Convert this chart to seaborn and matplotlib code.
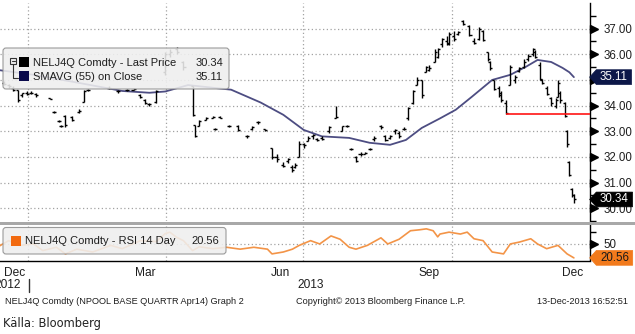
import numpy as np
import pandas as pd
import matplotlib
matplotlib.use("Agg")
import matplotlib.pyplot as plt
import matplotlib.transforms as mtransforms
from matplotlib.patches import FancyBboxPatch, Rectangle
from matplotlib.lines import Line2D
from matplotlib.path import Path
import seaborn as sns

# ---------------------------------------------------------------- data
# Exchange holidays removed from the trading-day axis
holidays = ["2012-12-24", "2012-12-25", "2012-12-26", "2012-12-31",
            "2013-01-01", "2013-03-28", "2013-03-29", "2013-04-01",
            "2013-05-01", "2013-05-09", "2013-05-17", "2013-05-20",
            "2013-12-24", "2013-12-25", "2013-12-26", "2013-12-31"]

# NELJ4Q daily OHLC bars (EUR/MWh)
bar_dates = [
    "2012-12-11", "2012-12-13", "2012-12-17", "2012-12-19", "2012-12-21", "2012-12-28",
    "2013-01-03", "2013-01-07", "2013-01-15", "2013-01-17", "2013-01-21", "2013-01-22", "2013-01-24", "2013-01-29",
    "2013-02-01", "2013-02-05", "2013-02-07", "2013-02-20", "2013-02-26",
    "2013-03-04", "2013-03-07", "2013-03-12", "2013-03-14", "2013-03-18", "2013-03-21", "2013-03-27",
    "2013-04-03", "2013-04-08", "2013-04-11", "2013-04-17", "2013-04-18", "2013-04-22", "2013-04-25", "2013-04-30",
    "2013-05-02", "2013-05-06", "2013-05-13", "2013-05-21", "2013-05-27", "2013-05-29",
    "2013-06-03", "2013-06-06", "2013-06-11", "2013-06-13", "2013-06-18", "2013-06-20", "2013-06-24", "2013-06-25", "2013-06-27",
    "2013-07-01", "2013-07-03", "2013-07-05", "2013-07-09", "2013-07-11", "2013-07-16", "2013-07-19", "2013-07-24", "2013-07-26", "2013-07-30",
    "2013-08-01", "2013-08-05", "2013-08-07", "2013-08-09", "2013-08-13", "2013-08-16", "2013-08-20", "2013-08-22", "2013-08-26", "2013-08-28", "2013-08-30",
    "2013-09-03", "2013-09-05", "2013-09-09", "2013-09-11", "2013-09-13", "2013-09-16", "2013-09-19", "2013-09-20", "2013-09-24", "2013-09-26", "2013-09-27",
    "2013-10-01", "2013-10-03", "2013-10-07", "2013-10-10", "2013-10-14", "2013-10-16", "2013-10-18", "2013-10-22", "2013-10-23", "2013-10-25", "2013-10-29", "2013-10-30",
    "2013-11-01", "2013-11-05", "2013-11-07", "2013-11-11", "2013-11-13", "2013-11-15", "2013-11-19", "2013-11-20", "2013-11-22", "2013-11-25", "2013-11-27", "2013-11-29",
    "2013-12-03", "2013-12-04", "2013-12-05", "2013-12-09", "2013-12-10", "2013-12-11", "2013-12-12", "2013-12-13",
]
bar_open = [
    34.90, 34.80, 34.70, 34.60, 34.40, 34.50,
    34.50, 34.45, 34.30, 33.75, 33.40, 33.20, 33.60, 33.55,
    33.75, 34.15, 34.60, 34.70, 34.55,
    34.60, 34.60, 34.40, 34.20, 34.05, 34.15, 35.30,
    36.00, 36.20, 35.70, 34.75, 33.25, 33.20, 33.45, 33.50,
    33.10, 33.55, 33.20, 33.20, 32.80, 33.10,
    33.35, 33.10, 32.35, 32.00, 31.70, 31.85, 31.60, 31.60, 32.00,
    32.50, 32.60, 32.80, 32.70, 32.75, 33.00, 33.50, 33.00, 33.20, 32.30,
    32.00, 32.10, 32.10, 32.30, 32.70, 33.20, 32.80, 32.75, 33.00, 32.95, 33.10,
    33.50, 34.10, 34.80, 35.00, 35.30, 35.40, 35.70, 35.90, 36.40, 36.50, 36.40,
    36.70, 36.80, 37.30, 37.10, 36.50, 36.60, 36.90, 36.10, 35.70, 35.00, 34.70, 34.50,
    34.10, 34.80, 35.00, 35.35, 35.50, 35.80, 36.00, 36.10, 35.60, 35.00, 34.70, 34.30,
    34.00, 34.35, 34.50, 34.10, 33.00, 31.80, 30.75, 30.50,
]
bar_high = [
    34.95, 34.85, 34.75, 34.60, 34.50, 34.55,
    34.55, 34.50, 34.30, 33.80, 33.45, 33.25, 33.65, 33.60,
    33.85, 34.60, 34.65, 34.75, 34.60,
    34.65, 34.70, 34.45, 34.25, 34.10, 34.60, 36.10,
    36.20, 36.30, 35.75, 34.78, 33.25, 33.45, 33.55, 33.60,
    33.12, 33.60, 33.25, 33.25, 32.85, 33.20,
    33.40, 33.10, 32.35, 32.10, 31.80, 31.95, 31.70, 31.75, 32.60,
    32.55, 32.80, 32.90, 32.75, 32.80, 33.20, 34.00, 33.20, 33.25, 32.35,
    32.05, 32.20, 32.20, 32.35, 32.80, 33.25, 32.85, 32.85, 33.10, 33.00, 33.15,
    33.95, 34.60, 35.10, 35.00, 35.55, 35.60, 36.20, 36.25, 36.65, 36.70, 36.85,
    36.90, 36.90, 37.35, 37.15, 36.65, 37.05, 36.95, 36.10, 35.75, 35.00, 34.75, 34.55,
    34.20, 35.60, 35.20, 35.50, 35.80, 36.00, 36.25, 36.15, 35.70, 35.05, 34.75, 34.35,
    34.30, 35.00, 34.55, 34.15, 33.05, 31.85, 30.80, 30.55,
]
bar_low = [
    34.80, 34.70, 34.55, 34.15, 34.35, 34.40,
    34.45, 34.35, 34.25, 33.70, 33.35, 33.15, 33.15, 33.40,
    33.70, 34.15, 34.55, 34.65, 34.50,
    34.55, 34.60, 34.30, 34.05, 34.00, 34.10, 35.20,
    35.90, 36.00, 35.40, 33.60, 32.78, 33.20, 33.45, 33.50,
    33.05, 33.50, 33.15, 33.00, 32.75, 33.05,
    33.30, 33.00, 31.90, 31.80, 31.60, 31.75, 31.40, 31.55, 32.00,
    32.35, 32.60, 32.70, 32.60, 32.65, 32.95, 33.50, 33.00, 33.15, 32.25,
    31.80, 32.05, 32.10, 32.25, 32.60, 33.10, 32.60, 32.70, 32.90, 32.75, 33.05,
    33.45, 34.05, 34.80, 34.30, 35.30, 35.35, 35.70, 35.85, 36.30, 36.35, 36.35,
    36.50, 36.75, 37.15, 36.70, 36.40, 36.55, 36.50, 35.75, 35.40, 34.60, 34.35, 34.15,
    33.67, 34.80, 34.90, 35.30, 35.45, 35.75, 35.95, 35.85, 35.00, 34.85, 34.40, 34.00,
    33.90, 34.35, 34.10, 33.55, 32.40, 31.25, 30.45, 30.20,
]
bar_close = [
    34.85, 34.75, 34.60, 34.20, 34.50, 34.45,
    34.50, 34.40, 34.27, 33.75, 33.40, 33.20, 33.25, 33.45,
    33.80, 34.55, 34.60, 34.70, 34.55,
    34.60, 34.65, 34.35, 34.10, 34.05, 34.55, 36.00,
    36.10, 36.10, 35.50, 33.65, 32.80, 33.40, 33.50, 33.55,
    33.10, 33.50, 33.20, 33.05, 32.80, 33.15,
    33.35, 33.05, 32.00, 31.90, 31.65, 31.90, 31.50, 31.70, 32.50,
    32.45, 32.75, 32.85, 32.65, 32.70, 33.15, 33.55, 33.20, 33.20, 32.30,
    31.85, 32.10, 32.15, 32.30, 32.75, 33.15, 32.65, 32.80, 33.05, 32.80, 33.10,
    33.90, 34.55, 35.00, 34.40, 35.50, 35.45, 36.10, 36.20, 36.60, 36.45, 36.80,
    36.60, 36.85, 37.20, 36.75, 36.45, 37.00, 36.55, 35.80, 35.45, 34.65, 34.40, 34.20,
    33.70, 35.50, 35.10, 35.45, 35.70, 35.95, 36.20, 35.90, 35.05, 34.90, 34.45, 34.10,
    34.20, 34.90, 34.20, 33.60, 32.50, 31.30, 30.50, 30.34,
]

# 55-day simple moving average of the close
sma_dates = ["2012-12-07", "2013-01-04", "2013-01-31", "2013-02-28", "2013-03-18",
             "2013-03-27", "2013-04-15", "2013-05-14", "2013-06-04", "2013-06-18",
             "2013-07-01", "2013-07-11", "2013-07-29", "2013-08-09", "2013-08-22",
             "2013-09-02", "2013-09-11", "2013-09-23", "2013-10-02", "2013-10-11",
             "2013-10-24", "2013-11-05", "2013-11-14", "2013-11-21", "2013-11-29",
             "2013-12-06", "2013-12-11", "2013-12-13"]
sma_values = [35.38, 35.20, 34.90, 34.57, 34.50,
              34.55, 34.80, 34.62, 34.12, 33.64,
              33.05, 32.80, 32.74, 32.55, 32.47,
              32.66, 33.13, 33.50, 33.84, 34.34,
              35.00, 35.20, 35.52, 35.78, 35.70,
              35.47, 35.30, 35.11]

# 14-day RSI
rsi_dates = ["2012-12-07", "2012-12-13", "2012-12-20", "2013-01-04", "2013-01-10",
             "2013-01-18", "2013-01-24", "2013-01-31", "2013-02-11", "2013-02-21",
             "2013-02-28", "2013-03-12", "2013-03-21", "2013-03-27", "2013-04-03",
             "2013-04-08", "2013-04-11", "2013-04-17", "2013-04-22", "2013-04-30",
             "2013-05-10", "2013-05-22", "2013-05-30", "2013-06-07", "2013-06-11",
             "2013-06-18", "2013-06-24", "2013-06-27", "2013-07-04", "2013-07-10",
             "2013-07-17", "2013-07-23", "2013-07-29", "2013-08-01", "2013-08-08",
             "2013-08-16", "2013-08-21", "2013-08-28", "2013-09-04", "2013-09-10",
             "2013-09-13", "2013-09-18", "2013-09-20", "2013-09-23", "2013-09-27",
             "2013-10-04", "2013-10-09", "2013-10-14", "2013-10-18", "2013-10-24",
             "2013-10-31", "2013-11-05", "2013-11-11", "2013-11-18", "2013-11-21",
             "2013-11-27", "2013-12-04", "2013-12-10", "2013-12-13"]
rsi_values = [46, 57, 47, 50, 36,
              43, 29, 39, 33, 47,
              40, 57, 55, 72, 75,
              64, 57, 36, 44, 40,
              43, 39, 43, 39, 29,
              33, 39, 47, 57, 50,
              67, 60, 43, 39, 47,
              63, 50, 60, 78, 80,
              82, 78, 65, 71, 75,
              71, 75, 61, 57, 33,
              29, 50, 54, 61, 50,
              40, 47, 29, 20.56]

support_date = "2013-11-01"
price_ticks = [30, 31, 32, 33, 34, 35, 36, 37]
quarter_months = [(2013, 1), (2013, 4), (2013, 7), (2013, 10)]
label_months = [(2012, 12, "Dec"), (2013, 3, "Mar"), (2013, 6, "Jun"),
                (2013, 9, "Sep"), (2013, 12, "Dec")]

# ---------------------------------------------------------------- style
sns.set_theme(style="white")
plt.rcParams["font.family"] = ["Liberation Sans", "DejaVu Sans"]
TXT = "#1e1e1e"
GRID = dict(color="#a2a2a2", lw=0.9, ls=(0, (1, 2)), zorder=0.5)

W, H = 635, 334
fig = plt.figure(figsize=(W / 100, H / 100), dpi=100)
fig.patch.set_facecolor("white")
# pixel coordinates measured from the top-left corner of the figure
PX = mtransforms.Affine2D().scale(1 / W, -1 / H).translate(0, 1) + fig.transFigure

# trading-day axis
cal = pd.bdate_range("2012-12-03", "2013-12-31", freq="C", holidays=holidays)
day_pos = pd.Series(np.arange(len(cal), dtype=float), index=cal)


def to_x(dates):
    return day_pos.loc[pd.to_datetime(dates)].to_numpy()


months = day_pos.groupby([cal.year, cal.month]).agg(["min", "max"])
jan_edge = months.loc[(2013, 1), "min"] - 0.5
x_left, x_right = jan_edge - 12.33, jan_edge + 247.6

ax = fig.add_axes([0, 1 - 221 / H, 590 / W, 218 / H])
rax = fig.add_axes([0, 1 - 260.5 / H, 590 / W, 35.2 / H])
for a in (ax, rax):
    a.set_facecolor("white")
    for s in a.spines.values():
        s.set_visible(False)
    a.spines["right"].set_visible(True)
    a.spines["right"].set_color("black")
    a.spines["right"].set_linewidth(1.0)
rax.spines["bottom"].set_visible(True)
rax.spines["bottom"].set_color("black")
rax.spines["bottom"].set_linewidth(1.0)

# grid
for ym, mm in quarter_months:
    edge = months.loc[(ym, mm), "min"] - 0.5
    ax.axvline(edge, **GRID)
    rax.axvline(edge, **GRID)
for v in price_ticks:
    ax.axhline(v, **GRID)
rax.axhline(50, **GRID)

# OHLC bars
bx = to_x(bar_dates)
ax.vlines(bx, bar_low, bar_high, color="black", lw=1.0, zorder=3)
ax.hlines(bar_open, bx - 0.9, bx, color="black", lw=1.0, zorder=3)
ax.hlines(bar_close, bx, bx + 0.9, color="black", lw=1.0, zorder=3)

# moving average
sma_df = pd.DataFrame({"day": to_x(sma_dates), "sma": sma_values})
sns.lineplot(data=sma_df, x="day", y="sma", ax=ax, color="#4d4d82", lw=1.3,
             zorder=2, legend=False)

# support line from the November low
support_level = bar_low[bar_dates.index(support_date)]
ax.hlines(support_level, to_x([support_date])[0], x_right, color="#ff1414",
          lw=1.2, zorder=4)

# RSI
rsi_df = pd.DataFrame({"day": to_x(rsi_dates), "rsi": rsi_values})
sns.lineplot(data=rsi_df, x="day", y="rsi", ax=rax, color="#f39447", lw=1.2,
             zorder=2, legend=False)

for a in (ax, rax):
    a.set_xlim(x_left, x_right)
    a.set_xlabel("")
    a.set_ylabel("")
    a.yaxis.tick_right()
ax.set_ylim(29.5, 38.0)
rax.set_ylim(15, 89.5)

# price axis; the level under the moving-average tag carries no label
tick_text = ["" if abs(v - sma_values[-1]) < 0.3 else f"{v:.2f}"
             for v in price_ticks]
ax.set_yticks(price_ticks, tick_text)
ax.set_yticks(np.arange(29.5, 38.0, 1.0), minor=True)
ax.tick_params(axis="y", which="major", length=0, pad=10, labelsize=8.3,
               labelcolor=TXT)
ax.tick_params(axis="y", which="minor", length=4, width=1, color="black")
ax.tick_params(axis="x", which="both", length=0, labelbottom=False)

rax.set_yticks([50], ["50"])
rax.set_yticks([25, 75], minor=True)
rax.tick_params(axis="y", which="major", length=0, pad=10, labelsize=8.3,
                labelcolor=TXT)
rax.tick_params(axis="y", which="minor", length=4, width=1, color="black")

for a, vals in ((ax, price_ticks), (rax, [50])):
    tri = a.get_yaxis_transform() + mtransforms.ScaledTranslation(
        3.5 / 100, 0, fig.dpi_scale_trans)
    a.plot(np.ones(len(vals)), vals, ls="none", marker=">", ms=5.5,
           color="black", transform=tri, clip_on=False, zorder=5)

# month ticks and labels
edges = [m - 0.5 for m in months["min"] if x_left < m - 0.5 < x_right]
rax.set_xticks(edges, [""] * len(edges))
centers, names = [], []
for yy, mm, name in label_months:
    lo, hi = months.loc[(yy, mm), "min"], months.loc[(yy, mm), "max"]
    centers.append(max(0.5 * (lo + hi), x_left + 6.5))
    names.append(name)
rax.set_xticks(centers, names, minor=True)
rax.tick_params(axis="x", which="major", length=4, width=1, color="black",
                direction="out")
rax.tick_params(axis="x", which="minor", length=0, pad=5, labelsize=8.6,
                labelcolor=TXT)
ax.set_xlim(x_left, x_right)
rax.set_xlim(x_left, x_right)

# panel separator
fig.add_artist(Rectangle((0, 221.5), W, 3.6, transform=PX, fc="#a8a8a8",
                         ec="none", zorder=6))


# value tags on the right-hand axis
def tag_shape(x0, y0, width, height, mutation_size):
    padx, pady = 0.32 * mutation_size, 0.12 * mutation_size
    x0, x1 = x0 - padx, x0 + width + padx
    y0, y1 = y0 - pady, y0 + height + pady
    tip = 0.45 * (y1 - y0)
    ym = 0.5 * (y0 + y1)
    return Path([(x0 - tip, ym), (x0, y1), (x1, y1), (x1, y0), (x0, y0),
                 (x0 - tip, ym)], closed=True)


def add_tag(a, value, fc, tc):
    a.annotate(f"{value:.2f}", xy=(1, value), xycoords=a.get_yaxis_transform(),
               xytext=(7.2, 0), textcoords="offset points", ha="left",
               va="center", fontsize=8.3, color=tc, zorder=10,
               annotation_clip=False,
               bbox=dict(boxstyle=tag_shape, fc=fc, ec=fc, lw=0.5))


add_tag(ax, sma_values[-1], "#0c1748", "white")
add_tag(ax, bar_close[-1], "black", "white")
add_tag(rax, rsi_values[-1], "#f27a1c", "#1a1a1a")

# legends
LEG = dict(transform=PX, fc="#efefef", ec="#8e8e8e", lw=0.8, alpha=0.88,
           zorder=8)
fig.add_artist(FancyBboxPatch((3, 48), 226, 41,
                              boxstyle="round,pad=0,rounding_size=3", **LEG))
fig.add_artist(FancyBboxPatch((3, 227.5), 223, 26.5,
                              boxstyle="round,pad=0,rounding_size=3", **LEG))
icon = dict(transform=PX, color="#333333", lw=0.8, zorder=9)
fig.add_artist(Rectangle((10, 57.5), 6, 6, transform=PX, fill=False,
                         ec="#333333", lw=0.8, zorder=9))
fig.add_artist(Line2D([11.5, 14.5], [60.5, 60.5], **icon))
fig.add_artist(Line2D([13, 13, 18], [63.5, 78, 78], **icon))
fig.add_artist(Rectangle((19, 57), 10, 10, transform=PX, fc="black",
                         ec="none", zorder=9))
fig.add_artist(Rectangle((19, 71), 10, 10, transform=PX, fc="#0a0a4c",
                         ec="none", zorder=9))
fig.add_artist(Rectangle((11, 236), 10, 10, transform=PX, fc="#f26a10",
                         ec="none", zorder=9))
LT = dict(transform=PX, fontsize=8.0, color=TXT, va="center", zorder=9)
fig.text(33, 62.5, "NELJ4Q Comdty - Last Price", **LT)
fig.text(223, 62.5, f"{bar_close[-1]:.2f}", ha="right", **LT)
fig.text(33, 77, "SMAVG (55) on Close", **LT)
fig.text(223, 77, f"{sma_values[-1]:.2f}", ha="right", **LT)
fig.text(25, 241.5, "NELJ4Q Comdty - RSI 14 Day", **LT)
fig.text(219, 241.5, f"{rsi_values[-1]:.2f}", ha="right", **LT)

# year row
YT = dict(transform=PX, fontsize=8.6, color=TXT, va="center")
fig.text(21, 285.5, "2012", ha="right", **YT)
fig.text(297, 285.5, "2013", ha="left", **YT)
fig.add_artist(Line2D([28.5, 28.5], [279, 292], transform=PX, color="#333333",
                      lw=1.0))

# footer
FT = dict(transform=PX, fontsize=6.6, color=TXT, va="center")
fig.text(5, 301, "NELJ4Q Comdty (NPOOL BASE QUARTR Apr14) Graph 2", **FT)
fig.text(296, 301, "Copyright\u00a9 2013 Bloomberg Finance L.P.", **FT)
fig.text(628, 301, "13-Dec-2013 16:52:51", ha="right", **FT)
fig.text(3, 324, "K\u00e4lla: Bloomberg", transform=PX, fontsize=9.2,
         color="#222222", va="center", family="DejaVu Sans",
         fontstretch="condensed")

fig.savefig("out.png", dpi=100, facecolor="white")
